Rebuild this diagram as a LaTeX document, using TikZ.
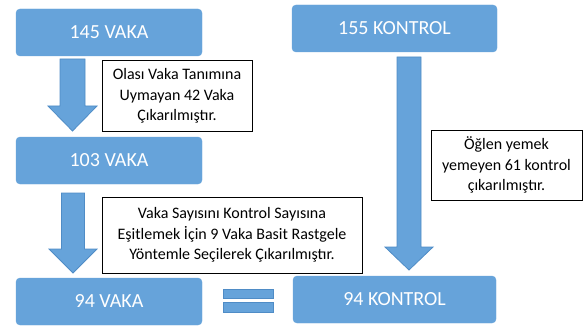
\documentclass[tikz,border=0pt]{standalone}
\usepackage{fontspec}
\setmainfont{Carlito}
\definecolor{boxblue}{HTML}{66A3DA}
\definecolor{edgeblue}{HTML}{4F8CC6}
\tikzset{
  bluebox/.style={fill=boxblue, draw=boxblue, rounded corners=4pt, text=white,
    font=\fontsize{20}{24}\selectfont, inner sep=0pt},
  notebox/.style={draw=black, line width=1pt, fill=white, align=center,
    font=\fontsize{16}{20.5}\selectfont, inner sep=0pt},
  blockarrow/.style={fill=boxblue, draw=edgeblue, line width=0.8pt, line join=miter},
}
\newcommand{\blockdown}[6]{% xc, top, headbase, tip, shafthalf, headhalf
  \draw[blockarrow] (#1-#5,#2) -- (#1+#5,#2) -- (#1+#5,#3) -- (#1+#6,#3) -- (#1,#4)
    -- (#1-#6,#3) -- (#1-#5,#3) -- cycle;}
\begin{document}
\begin{tikzpicture}[x=1pt,y=-1pt]
\useasboundingbox (0,0) rectangle (583,326);
% blue boxes
\node[bluebox, minimum width=186, minimum height=47] (v145) at (109,32.5) {145 VAKA};
\node[bluebox, minimum width=186, minimum height=47] (v103) at (109,160.5) {103 VAKA};
\node[bluebox, minimum width=186, minimum height=47] (v94) at (109,301.5) {94 VAKA};
\node[bluebox, minimum width=205, minimum height=47] (k155) at (394.5,28.5) {155 KONTROL};
\node[bluebox, minimum width=203, minimum height=47] (k94) at (394.5,299.5) {94 KONTROL};
% block arrows
\blockdown{72.5}{59}{106}{131}{12.5}{24.5}
\blockdown{73}{193}{249}{273}{11.5}{24}
\blockdown{409}{57}{247}{270}{12}{24}
% note boxes
\node[notebox, minimum width=150, minimum height=70] (n1) at (177,96)
  {Olası Vaka Tanımına\\Uymayan 42 Vaka\\Çıkarılmıştır.};
\node[notebox, minimum width=260, minimum height=76] (n2) at (232,235)
  {Vaka Sayısını Kontrol Sayısına\\Eşitlemek İçin 9 Vaka Basit Rastgele\\Yöntemle Seçilerek Çıkarılmıştır.};
\node[notebox, minimum width=151, minimum height=70] (n3) at (506.5,165)
  {Öğlen yemek\\yemeyen 61 kontrol\\çıkarılmıştır.};
% equals sign
\draw[blockarrow] (223,289) rectangle (273,298);
\draw[blockarrow] (223,302) rectangle (273,312);
\end{tikzpicture}
\end{document}
